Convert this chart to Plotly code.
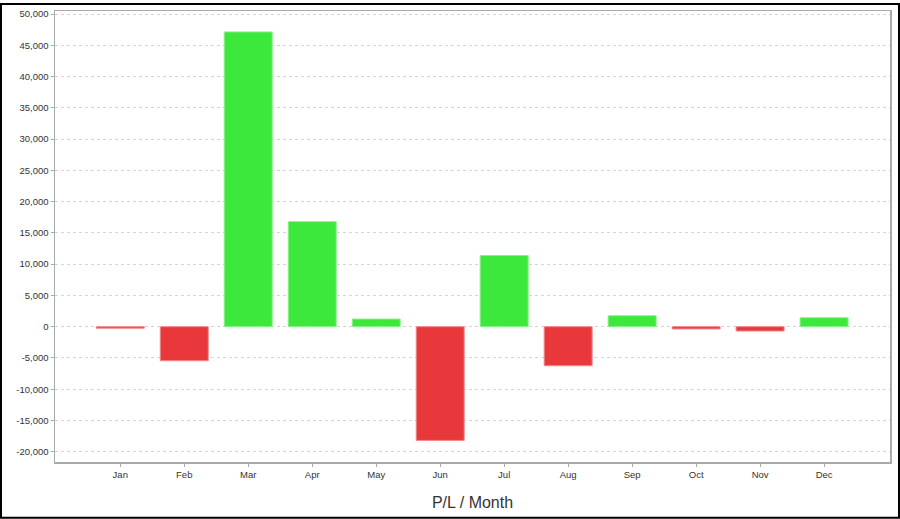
import plotly.graph_objects as go

months = ["Jan", "Feb", "Mar", "Apr", "May", "Jun", "Jul", "Aug", "Sep", "Oct", "Nov", "Dec"]
pl_values = [-250, -5450, 47150, 16800, 1220, -18200, 11400, -6250, 1750, -370, -700, 1430]
y_ticks = list(range(-20000, 50001, 5000))
y_tick_labels = [f"{v:,}" for v in y_ticks]

GREEN = "#3ce83c"
GREEN_EDGE = "#8cf08c"
RED = "#e8383c"
RED_EDGE = "#f08a8c"

colors = [GREEN if v >= 0 else RED for v in pl_values]
edges = [GREEN_EDGE if v >= 0 else RED_EDGE for v in pl_values]

fig = go.Figure()
fig.add_trace(go.Bar(
    x=list(range(len(months))),
    y=pl_values,
    marker=dict(color=colors, line=dict(color=edges, width=1)),
    width=0.75,
    hoverinfo="skip",
))

W, H = 900, 519
L, R, T, B = 55, 10, 8, 57
pw = W - L - R
ph = H - T - B

fig.update_layout(
    width=W, height=H,
    margin=dict(l=L, r=R, t=T, b=B, pad=0),
    paper_bgcolor="white",
    plot_bgcolor="white",
    showlegend=False,
    font=dict(family="Liberation Sans, Arial, sans-serif", color="#333333"),
    bargap=0.25,
)

fig.update_xaxes(
    range=[-1.02, 12.03],
    tickmode="array",
    tickvals=list(range(len(months))),
    ticktext=months,
    tickfont=dict(size=9.5, color="#333333"),
    ticks="outside", ticklen=3, tickcolor="#aaaaaa", tickwidth=1,
    showline=True, linecolor="#aaaaaa", linewidth=1.5, mirror=True,
    showgrid=False, zeroline=False,
    title=dict(text="P/L / Month", font=dict(size=16, color="#333333"), standoff=18),
)

fig.update_yaxes(
    range=[-21650, 50500],
    tickmode="array",
    tickvals=y_ticks,
    ticktext=y_tick_labels,
    tickfont=dict(size=9.5, color="#333333"),
    ticks="outside", ticklen=3, tickcolor="#aaaaaa", tickwidth=1,
    showline=True, linecolor="#aaaaaa", linewidth=1.5, mirror=True,
    showgrid=True, gridcolor="#d4d4d4", gridwidth=1, griddash="3px,3px",
    zeroline=False,
)

# outer black border around the whole image
fig.add_shape(
    type="rect", xref="paper", yref="paper",
    x0=(1 - L) / pw, x1=(W - 1 - L) / pw,
    y0=(H - B - (H - 1)) / ph, y1=(H - B - 1) / ph,
    line=dict(color="black", width=2), fillcolor="rgba(0,0,0,0)", layer="above",
)

fig.write_html(
    "out.html",
    config={"displayModeBar": False, "staticPlot": True},
    post_script="document.body.style.margin='0';document.body.style.padding='0';",
)
